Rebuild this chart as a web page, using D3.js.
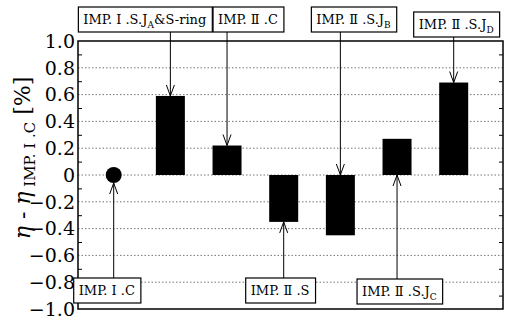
<!DOCTYPE html>
<html>
<head>
<meta charset="utf-8">
<script src="https://cdn.jsdelivr.net/npm/d3@7"></script>
<style>
  body { margin: 0; background: #fff; }
  svg { display: block; }
</style>
</head>
<body>
<svg id="chart"></svg>
<script>
// data
const categories = ["I.C", "I.S.JA", "II.C", "II.S", "II.S.JB", "II.S.JC", "II.S.JD"];
const values = [0, 0.59, 0.22, -0.35, -0.45, 0.27, 0.69];
const yTicks = [1.0, 0.8, 0.6, 0.4, 0.2, 0, -0.2, -0.4, -0.6, -0.8, -1.0];
// label text: [main, subscript, tail]
const labelParts = [
  ["IMP. Ⅰ .C", "", ""],
  ["IMP. Ⅰ .S.J", "A", "&S-ring"],
  ["IMP. Ⅱ .C", "", ""],
  ["IMP. Ⅱ .S", "", ""],
  ["IMP. Ⅱ .S.J", "B", ""],
  ["IMP. Ⅱ .S.J", "C", ""],
  ["IMP. Ⅱ .S.J", "D", ""]
];
const labelSide = ["bottom", "top", "top", "bottom", "top", "bottom", "top"];

// layout
const width = 509, height = 316;
const plot = {left: 78, right: 503, top: 41, bottom: 309};
const barWidth = 29;
const serif = '"DejaVu Serif"';
// box left edge relative to arrow x, and box top
const boxLayout = [
  {dx: -40, y: 278}, {dx: -92, y: 7}, {dx: -14, y: 7}, {dx: -38, y: 278},
  {dx: -29, y: 7}, {dx: -40, y: 279}, {dx: -40, y: 12}
];

const svg = d3.select("#chart")
  .attr("width", width)
  .attr("height", height);

const x = d3.scalePoint()
  .domain(categories)
  .range([plot.left, plot.right])
  .padding(0.75)
  .align(0.42);

const y = d3.scaleLinear()
  .domain([-1, 1])
  .range([plot.bottom, plot.top]);

// dotted grid
svg.append("g")
  .selectAll("line")
  .data(yTicks.filter(d => Math.abs(d) < 1))
  .join("line")
  .attr("x1", plot.left).attr("x2", plot.right)
  .attr("y1", d => y(d)).attr("y2", d => y(d))
  .attr("stroke", "#777")
  .attr("stroke-width", 1)
  .attr("stroke-dasharray", "1.5,2");

// axes (ticks inward, minor ticks in between)
const minor = d3.range(-9, 10, 2).map(d => d / 10);
const leftAxis = d3.axisRight(y).tickValues(minor).tickSize(4).tickFormat("");
const rightAxis = d3.axisLeft(y).tickValues(minor).tickSize(4).tickFormat("");
svg.append("g").attr("transform", `translate(${plot.left},0)`).call(leftAxis)
  .call(g => g.select(".domain").remove());
svg.append("g").attr("transform", `translate(${plot.right},0)`).call(rightAxis)
  .call(g => g.select(".domain").remove());

// tick labels
svg.selectAll("text.tick-label")
  .data(yTicks)
  .join("text")
  .attr("class", "tick-label")
  .attr("x", plot.left - 3)
  .attr("y", d => y(d))
  .attr("dy", "0.36em")
  .attr("text-anchor", "end")
  .style("font-family", serif)
  .attr("font-size", 19)
  .attr("fill", "#000")
  .text(d => d === 0 ? "0" : d3.format(".1f")(d));

// frame
svg.append("rect")
  .attr("x", plot.left).attr("y", plot.top)
  .attr("width", plot.right - plot.left)
  .attr("height", plot.bottom - plot.top)
  .attr("fill", "none")
  .attr("stroke", "#000")
  .attr("stroke-width", 1.5);

// bars (first category drawn as a dot)
svg.append("g")
  .selectAll("rect")
  .data(values.slice(1))
  .join("rect")
  .attr("x", (d, i) => x(categories[i + 1]) - barWidth / 2)
  .attr("y", d => y(Math.max(0, d)))
  .attr("width", barWidth)
  .attr("height", d => Math.abs(y(d) - y(0)))
  .attr("fill", "#000");

svg.append("circle")
  .attr("cx", x(categories[0]))
  .attr("cy", y(values[0]))
  .attr("r", 8)
  .attr("fill", "#000");

// annotations: box + arrow
categories.forEach((c, i) => {
  const ax = x(c);
  const v = values[i];
  const lay = boxLayout[i];

  const rect = svg.append("rect");
  const t = svg.append("text")
    .attr("x", ax + lay.dx + 5)
    .attr("y", lay.y + 17)
    .style("font-family", serif)
    .attr("font-size", 13)
    .attr("fill", "#000");
  const p = labelParts[i];
  t.append("tspan").text(p[0]);
  if (p[1]) t.append("tspan").attr("dy", 4).attr("font-size", 9).text(p[1]);
  if (p[2]) t.append("tspan").attr("dy", -4).text(p[2]);
  const boxW = t.node().getComputedTextLength() + 11;
  const boxH = 25;

  rect
    .attr("x", ax + lay.dx)
    .attr("y", lay.y)
    .attr("width", boxW)
    .attr("height", boxH)
    .attr("fill", "#fff")
    .attr("stroke", "#000")
    .attr("stroke-width", 1.2);

  let y0, y1;
  if (labelSide[i] === "top") {
    y0 = lay.y + boxH;
    y1 = v >= 0 ? y(v) : y(0);
  } else {
    y0 = lay.y;
    y1 = i === 0 ? y(v) + 8 : (v < 0 ? y(v) : y(0));
  }
  const dir = y1 > y0 ? 1 : -1;
  svg.append("line")
    .attr("x1", ax).attr("x2", ax)
    .attr("y1", y0).attr("y2", y1)
    .attr("stroke", "#000").attr("stroke-width", 1);
  svg.append("path")
    .attr("d", `M${ax - 4},${y1 - dir * 11}L${ax},${y1}L${ax + 4},${y1 - dir * 11}`)
    .attr("fill", "none")
    .attr("stroke", "#000")
    .attr("stroke-width", 1);
});

// y axis title
const title = svg.append("text")
  .attr("transform", "translate(30,158) rotate(-90)")
  .attr("text-anchor", "middle")
  .style("font-family", serif)
  .attr("font-size", 22)
  .attr("fill", "#000");
title.append("tspan").attr("font-style", "italic").text("η");
title.append("tspan").text(" - ");
title.append("tspan").attr("font-style", "italic").text("η");
title.append("tspan").attr("font-size", 15).attr("dy", 5).text(" IMP. Ⅰ .C");
title.append("tspan").attr("dy", -5).text(" [%]");
</script>
</body>
</html>
